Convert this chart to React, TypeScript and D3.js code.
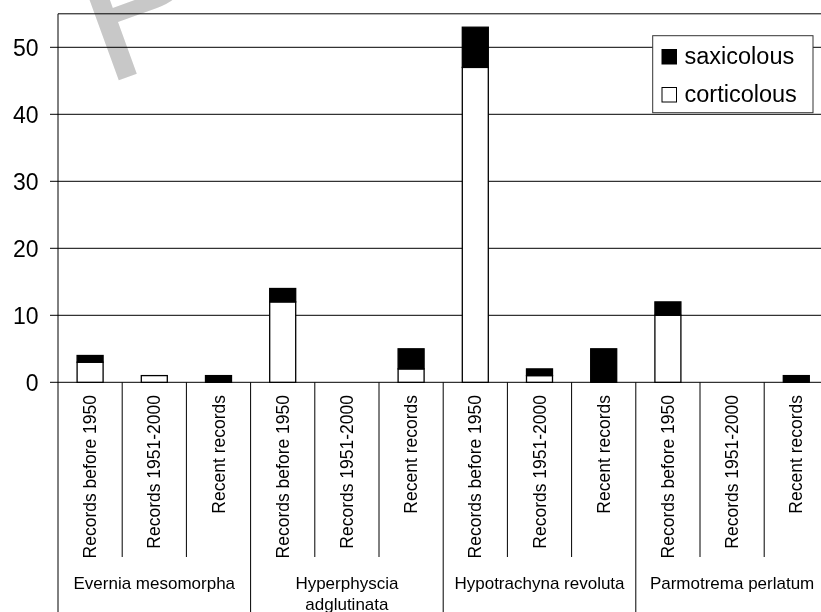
import React from "react";
import * as d3 from "d3";

const periods = ["Records before 1950", "Records 1951-2000", "Recent records"];
const species: string[][] = [
  ["Evernia mesomorpha"],
  ["Hyperphyscia", "adglutinata"],
  ["Hypotrachyna revoluta"],
  ["Parmotrema perlatum"],
];
const corticolous = [3, 1, 0, 12, 0, 2, 47, 1, 0, 10, 0, 0];
const saxicolous = [1, 0, 1, 2, 0, 3, 6, 1, 5, 2, 0, 1];
const yTicks = [0, 10, 20, 30, 40, 50];
const legendItems = [
  { label: "saxicolous", fill: "#000" },
  { label: "corticolous", fill: "#fff" },
];

const W = 821;
const H = 612;
const FONT = "'Liberation Sans', Arial, Helvetica, sans-serif";

export default function App() {
  const left = 58;
  const right = 828.4;
  const top = 13.8;
  const bottom = 382.3;
  const n = species.length * periods.length;
  const idx = d3.range(n);
  const x = d3.scaleBand<number>().domain(idx).range([left, right]).padding(0);
  const y = d3.scaleLinear().domain([0, 55]).range([bottom, top]);
  const bw = 26;

  const stacked = idx.map((i) => {
    const c = corticolous[i];
    const s = saxicolous[i];
    return [
      { y0: 0, y1: c, fill: "#fff" },
      { y0: c, y1: c + s, fill: "#000" },
    ];
  });

  return (
    <svg
      width={W}
      height={H}
      style={{ position: "absolute", left: 0, top: 0, background: "#fff" }}
      fontFamily={FONT}
    >
      <rect x={0} y={0} width={W} height={H} fill="#fff" />
      {yTicks.map((t) => (
        <g key={t}>
          <line x1={left - 8} x2={right} y1={y(t)} y2={y(t)} stroke="#000" strokeWidth={1} />
          <text x={38.5} y={y(t)} dy="0.36em" textAnchor="end" fontSize={23} fill="#000">
            {t}
          </text>
        </g>
      ))}
      <line x1={left} x2={right} y1={top} y2={top} stroke="#000" strokeWidth={1} />
      <line x1={left} x2={left} y1={top} y2={H} stroke="#000" strokeWidth={1} />
      {idx.map((i) => {
        const cx = (x(i) as number) + x.bandwidth() / 2;
        return stacked[i]
          .filter((seg) => seg.y1 > seg.y0)
          .map((seg, k) => (
            <rect
              key={`${i}-${k}`}
              x={cx - bw / 2}
              y={y(seg.y1)}
              width={bw}
              height={y(seg.y0) - y(seg.y1)}
              fill={seg.fill}
              stroke="#000"
              strokeWidth={1.3}
            />
          ));
      })}
      {d3.range(1, n + 1).map((i) => {
        const xx = left + i * x.bandwidth();
        const isGroup = i % periods.length === 0;
        return (
          <line
            key={`sep${i}`}
            x1={xx}
            x2={xx}
            y1={bottom}
            y2={isGroup ? H : 557}
            stroke="#000"
            strokeWidth={1}
          />
        );
      })}
      {idx.map((i) => {
        const cx = (x(i) as number) + x.bandwidth() / 2;
        return (
          <text
            key={`cl${i}`}
            transform={`translate(${cx},395) rotate(-90)`}
            dy="0.35em"
            textAnchor="end"
            fontSize={17.5}
            fill="#000"
          >
            {periods[i % periods.length]}
          </text>
        );
      })}
      {species.map((lines, g) => {
        const gx = left + (g + 0.5) * periods.length * x.bandwidth();
        return (
          <text key={`g${g}`} x={gx} y={589} textAnchor="middle" fontSize={17} fill="#000">
            {lines.map((ln, k) => (
              <tspan key={k} x={gx} dy={k === 0 ? 0 : 21}>
                {ln}
              </tspan>
            ))}
          </text>
        );
      })}
      <rect x={652.7} y={35.7} width={160.3} height={77} fill="#fff" stroke="#333" strokeWidth={1} />
      {legendItems.map((it, k) => (
        <g key={it.label}>
          <rect
            x={662}
            y={49.5 + k * 38}
            width={14.5}
            height={14.5}
            fill={it.fill}
            stroke="#000"
            strokeWidth={1}
          />
          <text x={684.5} y={64 + k * 37.7} fontSize={23.5} fill="#000">
            {it.label}
          </text>
        </g>
      ))}
      <text
        transform="translate(103,86) rotate(-20)"
        fontSize={205}
        fill="#c8c8c8"
        style={{ mixBlendMode: "multiply" }}
      >
        P
      </text>
    </svg>
  );
}
